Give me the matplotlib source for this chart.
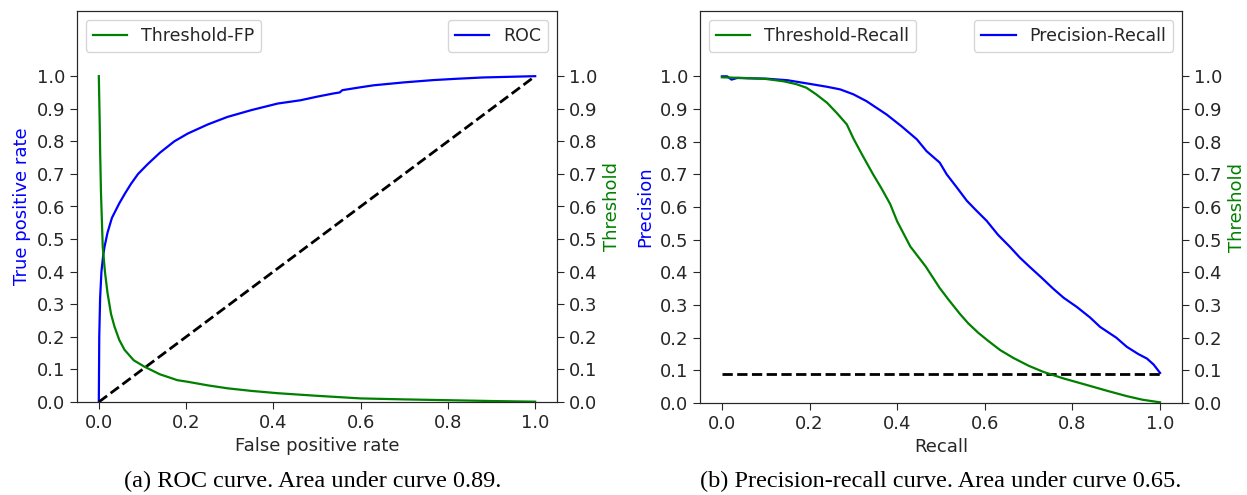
import numpy as np
import matplotlib
matplotlib.use("Agg")
import matplotlib.pyplot as plt

# ---------------- data ----------------
roc_fpr = [0.0, 0.001, 0.003, 0.006, 0.010, 0.013, 0.020, 0.030, 0.047, 0.060, 0.074,
           0.090, 0.112, 0.140, 0.173, 0.204, 0.250, 0.295, 0.350, 0.410, 0.462,
           0.500, 0.538, 0.552, 0.558, 0.600, 0.630, 0.700, 0.767, 0.820, 0.880,
           0.940, 1.000]
roc_tpr = [0.0, 0.20, 0.32, 0.40, 0.45, 0.476, 0.52, 0.565, 0.61, 0.64, 0.67,
           0.70, 0.73, 0.765, 0.80, 0.824, 0.852, 0.875, 0.896, 0.916, 0.926,
           0.937, 0.947, 0.950, 0.957, 0.966, 0.972, 0.981, 0.988, 0.992, 0.996,
           0.998, 1.0]

thr_fp_x = [0.0, 0.002, 0.003, 0.005, 0.009, 0.014, 0.020, 0.028, 0.036, 0.047, 0.059,
            0.080, 0.105, 0.140, 0.180, 0.204, 0.250, 0.295, 0.350, 0.410, 0.500,
            0.600, 0.700, 0.820, 0.900, 1.000]
thr_fp_y = [1.0, 0.86, 0.77, 0.64, 0.476, 0.40, 0.334, 0.27, 0.231, 0.19, 0.16,
            0.128, 0.108, 0.085, 0.067, 0.062, 0.051, 0.042, 0.034, 0.027, 0.019,
            0.011, 0.008, 0.005, 0.003, 0.001]

diag_x = [0.0, 1.0]
diag_y = [0.0, 1.0]

pr_recall = [0.0, 0.012, 0.022, 0.035, 0.060, 0.100, 0.150, 0.200, 0.240, 0.270,
             0.300, 0.330, 0.376, 0.410, 0.445, 0.467, 0.497, 0.513, 0.536, 0.559,
             0.580, 0.604, 0.630, 0.658, 0.680, 0.703, 0.730, 0.756, 0.780, 0.810,
             0.840, 0.863, 0.900, 0.924, 0.950, 0.970, 0.985, 1.000]
pr_precision = [1.0, 1.0, 0.99, 0.995, 0.994, 0.993, 0.988, 0.977, 0.968, 0.960,
                0.945, 0.924, 0.883, 0.847, 0.807, 0.771, 0.736, 0.700, 0.660, 0.619,
                0.590, 0.558, 0.515, 0.477, 0.445, 0.416, 0.383, 0.350, 0.322, 0.294,
                0.262, 0.233, 0.200, 0.172, 0.150, 0.136, 0.118, 0.092]

thr_rec_x = [0.0, 0.050, 0.100, 0.140, 0.170, 0.193, 0.215, 0.240, 0.262, 0.285,
             0.300, 0.320, 0.345, 0.365, 0.384, 0.400, 0.430, 0.465, 0.497,
             0.518, 0.543, 0.562, 0.585, 0.606, 0.635, 0.665, 0.700, 0.734, 0.780, 0.833,
             0.880, 0.924, 0.960, 1.000]
thr_rec_y = [0.997, 0.995, 0.992, 0.985, 0.976, 0.965, 0.945, 0.919, 0.888, 0.853,
             0.810, 0.760, 0.700, 0.655, 0.609, 0.556, 0.479, 0.418, 0.352,
             0.315, 0.273, 0.244, 0.215, 0.192, 0.162, 0.138, 0.114, 0.095, 0.075, 0.055,
             0.037, 0.021, 0.010, 0.002]

baseline_x = [0.0, 1.0]
baseline_y = [0.09, 0.09]

yticks = [0.0, 0.1, 0.2, 0.3, 0.4, 0.5, 0.6, 0.7, 0.8, 0.9, 1.0]
xticks = [0.0, 0.2, 0.4, 0.6, 0.8, 1.0]

# ---------------- figure ----------------
plt.rcParams['font.family'] = ['DejaVu Sans']
plt.rcParams['font.size'] = 13
TXT = '#262626'
plt.rcParams['text.color'] = TXT
plt.rcParams['axes.edgecolor'] = TXT
plt.rcParams['xtick.color'] = TXT
plt.rcParams['ytick.color'] = TXT
plt.rcParams['axes.labelcolor'] = TXT

W, H = 1247, 495
fig = plt.figure(figsize=(W / 100, H / 100), dpi=100)

def box(l, t, r, b):
    return [l / W, 1 - b / H, (r - l) / W, (b - t) / H]

def setup(ax, ax2):
    for a in (ax, ax2):
        a.set_ylim(0, 1.2)
        a.set_yticks(yticks)
        a.set_yticklabels([f"{v:.1f}" for v in yticks])
    ax.set_xticks(xticks)
    ax.set_xticklabels([f"{v:.1f}" for v in xticks])
    ax.set_xlim(-0.05, 1.05)
    ax.tick_params(labelsize=13, length=5)
    ax2.tick_params(labelsize=13, length=5)

LEG = 12.5

# left panel
ax1 = fig.add_axes(box(77, 11, 557, 402))
ax1b = ax1.twinx()
l_roc, = ax1.plot(roc_fpr, roc_tpr, color='b', lw=1.6, label='ROC')
ax1.plot(diag_x, diag_y, 'k--', lw=2)
l_thr, = ax1b.plot(thr_fp_x, thr_fp_y, color='g', lw=1.6, label='Threshold-FP')
setup(ax1, ax1b)
ax1.set_xlabel('False positive rate', fontsize=13)
ax1.set_ylabel('True positive rate', color='b', fontsize=13)
ax1b.set_ylabel('Threshold', color='g', fontsize=13)
ax1b.legend(handles=[l_thr], loc='upper left', fontsize=LEG)
ax1.legend(handles=[l_roc], loc='upper right', fontsize=LEG)

# right panel
ax2 = fig.add_axes(box(700, 11, 1182, 403))
ax2b = ax2.twinx()
l_pr, = ax2.plot(pr_recall, pr_precision, color='b', lw=1.6, label='Precision-Recall')
ax2.plot(baseline_x, baseline_y, 'k--', lw=2)
l_thr2, = ax2b.plot(thr_rec_x, thr_rec_y, color='g', lw=1.6, label='Threshold-Recall')
setup(ax2, ax2b)
ax2.set_xlabel('Recall', fontsize=13)
ax2.set_ylabel('Precision', color='b', fontsize=13)
ax2b.set_ylabel('Threshold', color='g', fontsize=13)
ax2b.legend(handles=[l_thr2], loc='upper left', fontsize=LEG)
ax2.legend(handles=[l_pr], loc='upper right', fontsize=LEG)

# captions
fig.text(313 / W, 1 - 481 / H, '(a) ROC curve. Area under curve 0.89.',
         ha='center', va='center', family='Liberation Serif', fontsize=17.5, color='black')
fig.text(941 / W, 1 - 481 / H, '(b) Precision-recall curve. Area under curve 0.65.',
         ha='center', va='center', family='Liberation Serif', fontsize=17.5, color='black')

fig.savefig('out.png', dpi=100)
